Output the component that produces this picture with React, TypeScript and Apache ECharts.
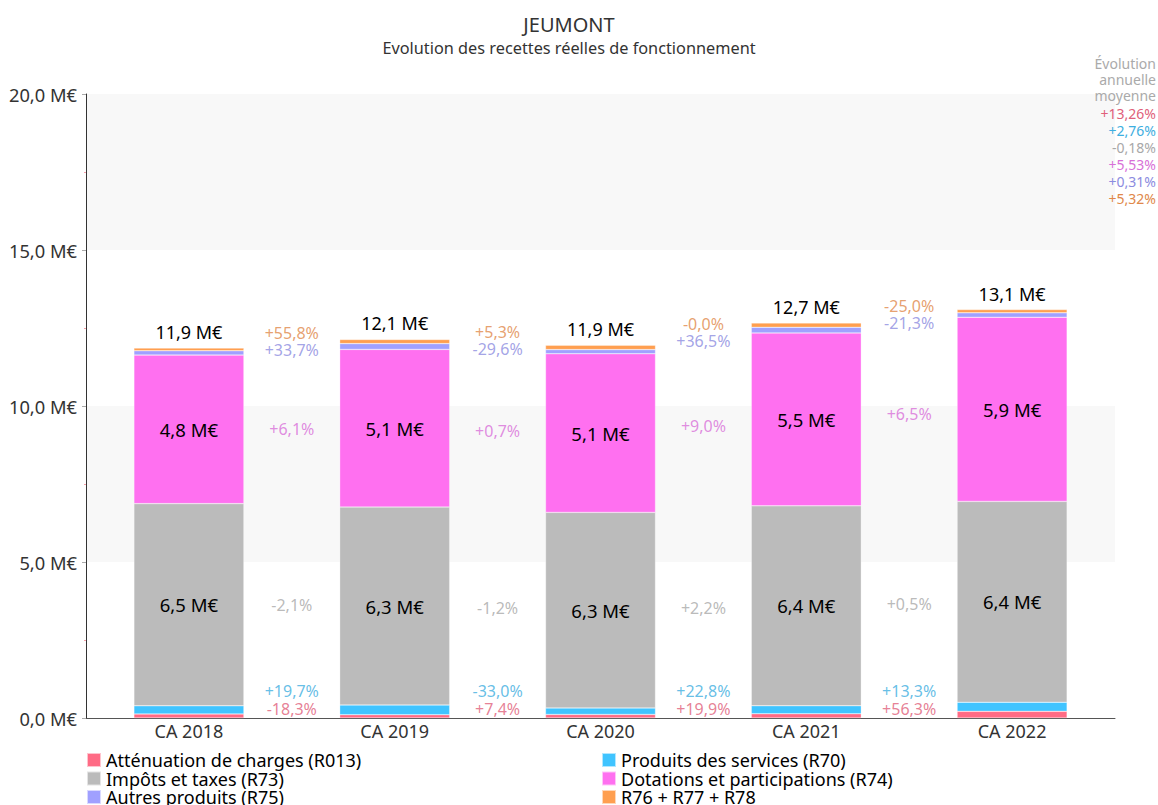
import React, { useEffect, useRef } from "react";
import * as echarts from "echarts";

const categories = ["CA 2018", "CA 2019", "CA 2020", "CA 2021", "CA 2022"];
const seriesNames = [
  "Atténuation de charges (R013)",
  "Produits des services (R70)",
  "Impôts et taxes (R73)",
  "Dotations et participations (R74)",
  "Autres produits (R75)",
  "R76 + R77 + R78",
];
const attenuation = [0.131, 0.106, 0.114, 0.137, 0.214];
const produitsServices = [0.26, 0.311, 0.208, 0.256, 0.29];
const impots = [6.48, 6.344, 6.268, 6.406, 6.438];
const dotations = [4.76, 5.052, 5.086, 5.543, 5.903];
const autresProduits = [0.14, 0.187, 0.132, 0.18, 0.141];
const r767778 = [0.085, 0.132, 0.139, 0.139, 0.105];

const evolAttenuation = [-18.3, 7.4, 19.9, 56.3];
const evolServices = [19.7, -33.0, 22.8, 13.3];
const evolImpots = [-2.1, -1.2, 2.2, 0.5];
const evolDotations = [6.1, 0.7, 9.0, 6.5];
const evolAutres = [33.7, -29.6, 36.5, -21.3];
const evolR76 = [55.8, 5.3, -0.0, -25.0];
const annualAvg = [13.26, 2.76, -0.18, 5.53, 0.31, 5.32];

const barColors = ["#ff6b85", "#40c4ff", "#bbbbbb", "#ff70f0", "#a0a0ff", "#ff9f50"];
const textColors = ["#e0607a", "#3eaee0", "#a8a8a8", "#d870d8", "#8c8ce0", "#e0884a"];

const FONT = "Noto Sans";

function fr(v: number, d: number) {
  return Math.abs(v).toFixed(d).replace(".", ",");
}
function signed(v: number, d: number) {
  const neg = v < 0 || Object.is(v, -0);
  return (neg ? "-" : "+") + fr(v, d) + "%";
}

export default function App() {
  const ref = useRef<HTMLDivElement>(null);
  useEffect(() => {
    if (!ref.current) return;
    const chart = echarts.init(ref.current, undefined, { renderer: "svg" });
    const stacks = [attenuation, produitsServices, impots, dotations, autresProduits, r767778];
    const n = categories.length;
    const totals = categories.map((_, i) => stacks.reduce((s, a) => s + a[i], 0));
    const mids = stacks.map((arr, k) =>
      arr.map((v, i) => {
        let base = 0;
        for (let j = 0; j < k; j++) base += stacks[j][i];
        return base + v / 2;
      })
    );
    const pairMid = (k: number) =>
      Array.from({ length: n - 1 }, (_, i) => (mids[k][i] + mids[k][i + 1]) / 2);

    const evols = [evolAttenuation, evolServices, evolImpots, evolDotations, evolAutres, evolR76];
    const yFor = [
      evolAttenuation.map(() => 0),
      evolServices.map(() => 0),
      pairMid(2),
      pairMid(3),
      pairMid(4),
      pairMid(4),
    ];
    const offsets = [[0, -9], [0, -27], [0, 0], [0, 0], [0, 0], [0, -17]];

    const barSeries: any[] = stacks.map((arr, k) => ({
      name: seriesNames[k],
      type: "bar",
      stack: "total",
      barWidth: 110,
      data: arr,
      itemStyle: { color: barColors[k], borderColor: "rgba(255,255,255,0.6)", borderWidth: 0.5 },
      label:
        k === 2 || k === 3
          ? {
              show: true,
              position: "inside",
              color: "#000",
              fontSize: 18.5,
              fontFamily: FONT,
              formatter: (p: any) => fr(p.value, 1) + " M€",
            }
          : k === 5
          ? {
              show: true,
              position: "top",
              distance: 7,
              color: "#000",
              fontSize: 18,
              fontFamily: FONT,
              formatter: (p: any) => fr(totals[p.dataIndex], 1) + " M€",
            }
          : { show: false },
      silent: true,
    }));

    const evolSeries: any[] = evols.map((ev, k) => ({
      type: "scatter",
      xAxisIndex: 1,
      yAxisIndex: 0,
      symbolSize: 0,
      silent: true,
      data: ev.map((v, i) => [i + 1, yFor[k][i]]),
      label: {
        show: true,
        position: "inside",
        offset: offsets[k],
        color: textColors[k],
        fontSize: 16,
        lineHeight: 16,
        fontFamily: FONT,
        formatter: (p: any) => signed(ev[p.dataIndex], 1),
      },
    }));

    const rightTexts: any[] = [
      ...["Évolution", "annuelle", "moyenne"].map((t, i) => ({
        type: "text",
        x: 1156,
        y: 63 + i * 16,
        z: 100,
        style: { text: t, fill: "#aaaaaa", fontSize: 14, fontFamily: FONT, align: "right", verticalAlign: "middle" },
      })),
      ...annualAvg.map((v, i) => ({
        type: "text",
        x: 1156,
        y: 113 + i * 17,
        z: 100,
        style: {
          text: signed(v, 2),
          fill: textColors[i],
          fontSize: 14,
          fontFamily: FONT,
          align: "right",
          verticalAlign: "middle",
        },
      })),
    ];

    const legendBase = {
      orient: "vertical",
      top: 751,
      height: 120,
      padding: 0,
      itemWidth: 14,
      itemHeight: 14,
      itemGap: 0.5,
      icon: "rect",
      textStyle: { fontSize: 18, color: "#000", fontFamily: FONT, lineHeight: 17 },
      selectedMode: false,
    };

    chart.setOption({
      animation: false,
      textStyle: { fontFamily: FONT },
      graphic: [
        {
          type: "text",
          x: 569,
          y: 24,
          z: 100,
          style: { text: "JEUMONT", fill: "#333", fontSize: 20, fontFamily: FONT, align: "center", verticalAlign: "middle" },
        },
        {
          type: "text",
          x: 569,
          y: 48,
          z: 100,
          style: {
            text: "Evolution des recettes réelles de fonctionnement",
            fill: "#333",
            fontSize: 16.3,
            fontFamily: FONT,
            align: "center",
            verticalAlign: "middle",
          },
        },
        ...rightTexts,
      ],
      legend: [
        { ...legendBase, left: 86, data: [seriesNames[0], seriesNames[2], seriesNames[4]] },
        { ...legendBase, left: 601, data: [seriesNames[1], seriesNames[3], seriesNames[5]] },
      ],
      grid: { left: 86, right: 43, top: 94, bottom: 87, containLabel: false },
      xAxis: [
        {
          type: "category",
          data: categories,
          axisLine: { lineStyle: { color: "#555" } },
          axisTick: { show: false },
          axisLabel: { fontSize: 18, color: "#333", margin: 4, fontFamily: FONT },
        },
        { type: "value", min: 0, max: n, show: false },
      ],
      yAxis: {
        type: "value",
        min: 0,
        max: 20,
        interval: 5,
        axisLine: { show: true, lineStyle: { color: "#333" } },
        axisTick: { show: true, length: 4, lineStyle: { color: "#aaa" } },
        minorTick: { show: true, splitNumber: 2, length: 2, lineStyle: { color: "#f4a0a8" } },
        splitLine: { show: false },
        splitArea: { show: true, areaStyle: { color: ["rgba(255,255,255,0)", "#f8f8f8"] } },
        axisLabel: {
          fontSize: 18.3,
          color: "#333",
          margin: 9,
          fontFamily: FONT,
          formatter: (v: number) => fr(v, 1) + " M€",
        },
      },
      series: [...barSeries, ...evolSeries],
    });
    return () => chart.dispose();
  }, []);
  return (
    <div
      ref={ref}
      style={{ position: "fixed", left: 0, top: 0, width: 1158, height: 805, background: "#fff" }}
    />
  );
}
